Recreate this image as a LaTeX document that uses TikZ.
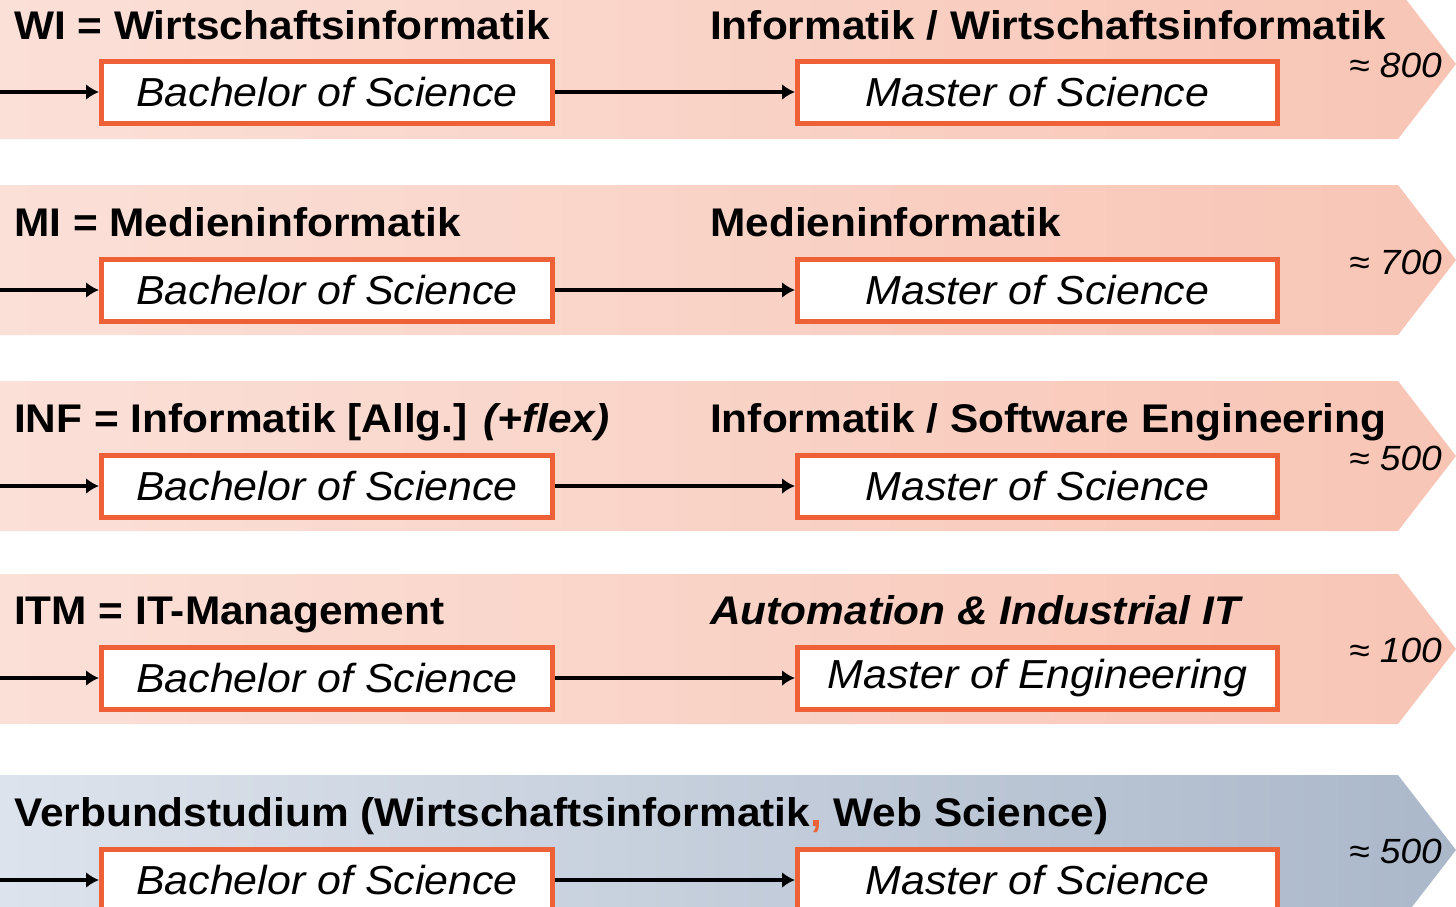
\documentclass[tikz,border=0pt]{standalone}
\usepackage{fontspec}
\setmainfont[FakeStretch=1.06]{Liberation Sans}
\usepackage{tikz}
\usetikzlibrary{
  arrows.meta,
  positioning
}

\definecolor{pinkL}{RGB}{251,224,216}
\definecolor{pinkR}{RGB}{248,197,181}
\definecolor{blueL}{RGB}{221,227,236}
\definecolor{blueR}{RGB}{171,184,202}
\definecolor{boxorange}{RGB}{238,96,53}

\tikzset{
  band/.style={left color=pinkL, right color=pinkR, draw=none},
  vband/.style={left color=blueL, right color=blueR, draw=none},
  degree/.style={draw=boxorange, line width=5pt, fill=white, minimum height=62pt,
    inner sep=0pt, font=\fontsize{40.5}{48}\selectfont\itshape},
  bsc/.style={degree, minimum width=451pt},
  msc/.style={degree, minimum width=480pt},
  title/.style={anchor=base west, inner sep=0pt, font=\fontsize{40}{48}\selectfont\bfseries},
  count/.style={anchor=east, inner sep=0pt, font=\fontsize{35}{42}\selectfont\itshape},
  flow/.style={-{Latex[length=13pt,width=16pt]}, line width=4pt}
}

\begin{document}
\begin{tikzpicture}[x=1pt, y=-1pt]
\useasboundingbox (0,0) rectangle (1456,906);
\clip (0,0) rectangle (1456,906);

% bands
\shade[band] (0,-11) -- (1398,-11) -- (1456,64) -- (1398,139) -- (0,139) -- cycle;
\shade[band] (0,185) -- (1398,185) -- (1456,260) -- (1398,335) -- (0,335) -- cycle;
\shade[band] (0,381) -- (1398,381) -- (1456,456) -- (1398,531) -- (0,531) -- cycle;
\shade[band] (0,574) -- (1398,574) -- (1456,649) -- (1398,724) -- (0,724) -- cycle;
\shade[vband] (0,775) -- (1398,775) -- (1456,850) -- (1398,925) -- (0,925) -- cycle;

% WI
\node[title] (t1) at (14,39) {WI = Wirtschaftsinformatik};
\node[title] (t1r) at (710,39) {Informatik / Wirtschaftsinformatik};
\node[bsc] (bsc1) at (327,92) {Bachelor of Science};
\node[msc] (msc1) at (1037.5,92) {Master of Science};
\node[count] (n1) at (1442,65) {≈ 800};
\coordinate (in1) at (0,92);
\draw[flow] (in1) -- (bsc1);
\draw[flow] (bsc1) -- (msc1);

% MI
\node[title] (t2) at (14,236) {MI = Medieninformatik};
\node[title] (t2r) at (710,236) {Medieninformatik};
\node[bsc] (bsc2) at (327,290) {Bachelor of Science};
\node[msc] (msc2) at (1037.5,290) {Master of Science};
\node[count] (n2) at (1442,262) {≈ 700};
\coordinate (in2) at (0,290);
\draw[flow] (in2) -- (bsc2);
\draw[flow] (bsc2) -- (msc2);

% INF
\node[title] (t3) at (14,432) {INF = Informatik [Allg.] \textit{(+flex)}};
\node[title] (t3r) at (710,432) {Informatik / Software Engineering};
\node[bsc] (bsc3) at (327,486) {Bachelor of Science};
\node[msc] (msc3) at (1037.5,486) {Master of Science};
\node[count] (n3) at (1442,458) {≈ 500};
\coordinate (in3) at (0,486);
\draw[flow] (in3) -- (bsc3);
\draw[flow] (bsc3) -- (msc3);

% ITM
\node[title] (t4) at (14,624) {ITM = IT-Management};
\node[title] (t4r) at (710,624) {\textit{Automation \& Industrial IT}};
\node[bsc] (bsc4) at (327,678) {Bachelor of Science};
\node[msc] (msc4) at (1037.5,678) {Master of Engineering};
\node[count] (n4) at (1442,650) {≈ 100};
\coordinate (in4) at (0,678);
\draw[flow] (in4) -- (bsc4);
\draw[flow] (bsc4) -- (msc4);

% Verbund
\node[title] (t5) at (14,826) {Verbundstudium (Wirtschaftsinformatik{\color{boxorange},} Web Science)};
\node[bsc] (bsc5) at (327,880) {Bachelor of Science};
\node[msc] (msc5) at (1037.5,880) {Master of Science};
\node[count] (n5) at (1442,851) {≈ 500};
\coordinate (in5) at (0,880);
\draw[flow] (in5) -- (bsc5);
\draw[flow] (bsc5) -- (msc5);
\end{tikzpicture}
\end{document}
